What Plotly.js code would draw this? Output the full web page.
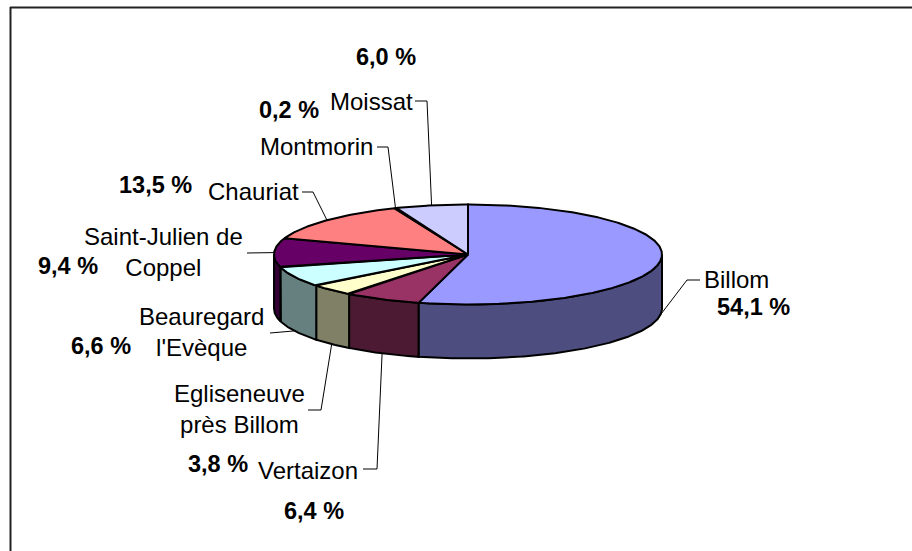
<!DOCTYPE html>
<html>
<head>
<meta charset="utf-8">
<script src="https://cdn.plot.ly/plotly-3.0.1.min.js"></script>
<style>
  html, body { margin: 0; padding: 0; background: #fff; }
  #chart { width: 912px; height: 551px; }
</style>
</head>
<body>
<div id="chart"></div>
<script>
// ---- data ----
var categories = ["Billom", "Vertaizon", "Egliseneuve près Billom", "Beauregard l'Evèque",
                  "Saint-Julien de Coppel", "Chauriat", "Montmorin", "Moissat"];
var nameLabels = ["Billom", "Vertaizon", "Egliseneuve<br>près Billom", "Beauregard<br>l'Evèque",
                  "Saint-Julien de<br>Coppel", "Chauriat", "Montmorin", "Moissat"];
var values = [54.1, 6.4, 3.8, 6.6, 9.4, 13.5, 0.2, 6.0];
var topColors  = ["#9999FF", "#993366", "#FFFFCC", "#CCFFFF", "#660066", "#FF8080", "#0066CC", "#CCCCFF"];
var sideColors = ["#4D4D80", "#4D1A33", "#808066", "#668080", "#330033", "#804040", "#003366", "#666680"];

// ---- layout geometry (pixel-like coordinates of the drawing area) ----
var CX = 468, CY = 254.5, RX = 194, RY = 50, DEPTH = 54;
var namePos = [[736, 279], [308, 470], [239, 409], [201, 332], [163, 252], [253, 191], [316, 146], [371, 101]];
var pctPos  = [[753, 307], [314, 511], [218, 464], [101, 346], [68, 266], [155, 185], [289, 110], [386, 57]];
var leaderElbows = [
  [[700, 280], [687, 280]],
  [[363, 469], [377, 469]],
  [[308, 410], [321, 410]],
  [[270, 333]],
  [[247, 253]],
  [[302, 192], [313, 192]],
  [[377, 147], [388, 147]],
  [[415, 101], [427, 101]]
];

var total = values.reduce(function (a, b) { return a + b; }, 0);
function pt(deg, dy) {
  var r = deg * Math.PI / 180;
  return [CX + RX * Math.sin(r), CY - RY * Math.cos(r) + (dy || 0)];
}
function arc(a, b, dy) {
  var pts = [], n = Math.max(2, Math.ceil(Math.abs(b - a) / 0.5));
  for (var i = 0; i <= n; i++) pts.push(pt(a + (b - a) * i / n, dy));
  return pts;
}

var sideTraces = [], topTraces = [], shapes = [], annotations = [];
var start = 0;
values.forEach(function (v, i) {
  var a = start, b = start + v / total * 360;
  start = b;
  // side face (front half only: 90..270 deg)
  var sa = Math.max(a, 90), sb = Math.min(b, 270);
  if (sb > sa) {
    var poly = arc(sa, sb, 0).concat(arc(sb, sa, DEPTH));
    poly.push(poly[0]);
    sideTraces.push({
      type: "scatter", mode: "lines", fill: "toself",
      x: poly.map(function (p) { return p[0]; }),
      y: poly.map(function (p) { return p[1]; }),
      fillcolor: sideColors[i], line: { color: "#000", width: 2 },
      hoverinfo: "skip", showlegend: false
    });
  }
  // top face
  var tp = [[CX, CY]].concat(arc(a, b, 0));
  tp.push([CX, CY]);
  topTraces.push({
    type: "scatter", mode: "lines", fill: "toself",
    x: tp.map(function (p) { return p[0]; }),
    y: tp.map(function (p) { return p[1]; }),
    fillcolor: topColors[i], line: { color: "#000", width: 2, join: "miter" },
    hoverinfo: "skip", showlegend: false, name: categories[i]
  });
  // leader line to the slice's mid angle
  var mid = (a + b) / 2;
  var front = Math.cos(mid * Math.PI / 180) < 0;
  var end = pt(mid, front ? DEPTH : 0);
  var el = leaderElbows[i];
  var path = "M" + el[0][0] + "," + el[0][1];
  for (var k = 1; k < el.length; k++) path += " L" + el[k][0] + "," + el[k][1];
  path += " L" + end[0].toFixed(1) + "," + end[1].toFixed(1);
  shapes.push({ type: "path", path: path, xref: "x", yref: "y",
                line: { color: "#000", width: 1 } });
  // labels
  annotations.push({
    x: namePos[i][0], y: namePos[i][1], xref: "x", yref: "y",
    text: nameLabels[i], showarrow: false, xanchor: "center", yanchor: "middle",
    align: "center", font: { family: "Liberation Sans, Arial, sans-serif", size: 24, color: "#000" }
  });
  annotations.push({
    x: pctPos[i][0], y: pctPos[i][1], xref: "x", yref: "y",
    text: "<b>" + v.toFixed(1).replace(".", ",") + " %</b>", showarrow: false,
    xanchor: "center", yanchor: "middle",
    font: { family: "Liberation Sans, Arial, sans-serif", size: 23.5, color: "#000" }
  });
});

// chart frame (left and top edges visible)
shapes.push({ type: "line", xref: "x", yref: "y", x0: 10.5, y0: 7, x1: 10.5, y1: 560,
              line: { color: "#222", width: 2 } });
shapes.push({ type: "line", xref: "x", yref: "y", x0: 10, y0: 7.5, x1: 920, y1: 7.5,
              line: { color: "#222", width: 2 } });

var layout = {
  width: 912, height: 551,
  margin: { l: 0, r: 0, t: 0, b: 0 },
  paper_bgcolor: "#fff", plot_bgcolor: "#fff",
  showlegend: false,
  xaxis: { range: [0, 912], visible: false, fixedrange: true },
  yaxis: { range: [551, 0], visible: false, fixedrange: true },
  shapes: shapes,
  annotations: annotations
};

Plotly.newPlot("chart", sideTraces.concat(topTraces), layout, { displayModeBar: false, staticPlot: true });
</script>
</body>
</html>
